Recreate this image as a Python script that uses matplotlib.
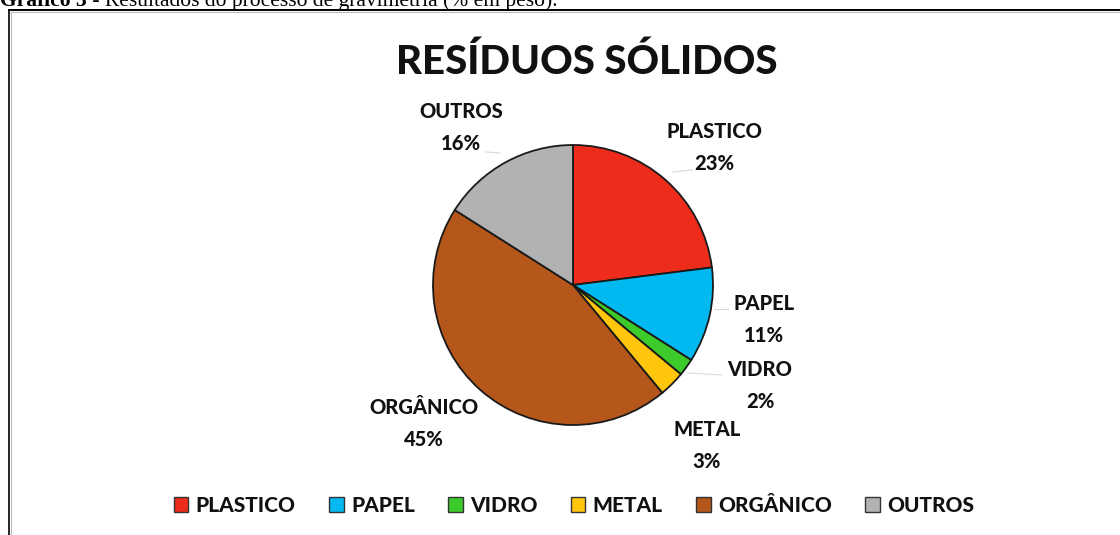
import matplotlib
matplotlib.use('Agg')
import matplotlib.pyplot as plt
from matplotlib.lines import Line2D

# ---- data ----
categories = ['PLASTICO', 'PAPEL', 'VIDRO', 'METAL', 'ORGÂNICO', 'OUTROS']
values = [23, 11, 2, 3, 45, 16]
colors = ['#EE2C1C', '#00B9F1', '#3CCB2A', '#FFC60B', '#B5561A', '#B2B2B2']
title = 'RESÍDUOS SÓLIDOS'
caption_bold = 'Gráfico 3'
caption_rest = ' - Resultados do processo de gravimetria (% em peso).'

# ---- layout (pixels, y measured from top) ----
W, H = 1120, 535
label_xy = [(714, 132), (764, 303), (760, 369), (707, 430), (424, 407), (461, 112)]
leaders = [((673, 172), (692, 170)), ((714, 309), (728, 309)),
           ((688, 373), (722, 375)), ((486, 152), (500, 153))]
FONT = 'Lato'
WEIGHT = 900

fig = plt.figure(figsize=(W / 100, H / 100), dpi=100)
ax = fig.add_axes([0, 0, 1, 1])
center = (573, H - 285)
radius = 140
wedges, _ = ax.pie(values, colors=colors, startangle=90, counterclock=False,
                   center=center, radius=radius,
                   wedgeprops=dict(edgecolor='#1a1a1a', linewidth=1.3))
ax.set_xlim(0, W)
ax.set_ylim(0, H)
ax.set_aspect('equal')
ax.axis('off')

# leader lines
for (p1, p2) in leaders:
    ax.plot([p1[0], p2[0]], [H - p1[1], H - p2[1]], color='#d9d9d9', lw=0.8, zorder=0)

# data labels
for cat, v, (x, y) in zip(categories, values, label_xy):
    ax.text(x, H - y, cat, ha='center', va='center', fontsize=14.5,
            fontweight=WEIGHT, family=FONT, color='#111111')
    ax.text(x, H - y - 32, f'{v}%', ha='center', va='center', fontsize=14.5,
            fontweight=WEIGHT, family=FONT, color='#111111')

# title
ax.text(587, H - 62, title, ha='center', va='center', fontsize=29,
        fontweight=WEIGHT, family=FONT, color='#111111')

# legend
handles = [plt.Rectangle((0, 0), 1, 1, facecolor=c, edgecolor='#333333', lw=1.0)
           for c in colors]
leg = ax.legend(handles, categories, loc='center', bbox_to_anchor=(574 / W, 1 - 505 / H),
                bbox_transform=fig.transFigure, ncol=6, frameon=False,
                handlelength=0.7, handleheight=0.7, handletextpad=0.35,
                columnspacing=1.6, prop=dict(family=FONT, weight=WEIGHT, size=15))
for t in leg.get_texts():
    t.set_color('#111111')

# border box
ax.add_line(Line2D([8.5, 8.5], [0, H - 10], color='black', lw=1.2))
ax.add_line(Line2D([8.5, W], [H - 10, H - 10], color='black', lw=1.4))
ax.add_line(Line2D([10.5, 10.5], [0, H - 12], color='#bbbbbb', lw=0.8))
ax.add_line(Line2D([10.5, W], [H - 12, H - 12], color='#bbbbbb', lw=0.8))

# caption (cut off at top, as in the reference)
t1 = fig.text(0, 1 - 6 / H, caption_bold, ha='left', va='baseline',
              fontsize=15.5, fontweight='bold', family='Liberation Serif')
fig.canvas.draw()
bb = t1.get_window_extent()
fig.text(bb.x1 / W, 1 - 6 / H, caption_rest, ha='left', va='baseline',
         fontsize=15.5, family='Liberation Serif')

fig.savefig('out.png', dpi=100)
